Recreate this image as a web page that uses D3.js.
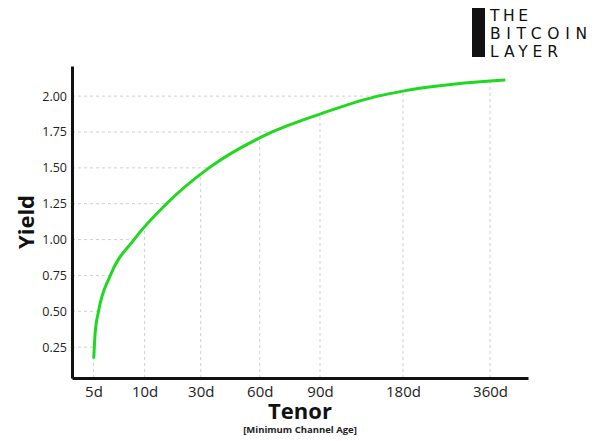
<!DOCTYPE html>
<html>
<head>
<meta charset="utf-8">
<script src="https://cdn.jsdelivr.net/npm/d3@7"></script>
<style>
  body { margin: 0; background: #fff; }
  svg { display: block; font-family: "Open Sans", sans-serif; }
</style>
</head>
<body>
<div id="chart"></div>
<script>
var width = 600,
    height = 441;

// tenor labels and where they sit on the (unevenly spaced) tenor scale
var tenorLabels = ["5d", "10d", "30d", "60d", "90d", "180d", "360d"];
var tenorAt = [0.2, 12.6, 26.2, 40.5, 55.1, 75.2, 96.3];

// yield curve
var curveX = [0.27, 0.6, 1.43, 4.29, 10.03, 17.9, 28.2, 43.5, 55.1, 69.1, 75.2, 96.3, 100];
var curveY = [0.17, 0.346, 0.50, 0.75, 1.00, 1.25, 1.50, 1.75, 1.875, 2.00, 2.035, 2.105, 2.112];

var yTicks = [0.25, 0.50, 0.75, 1.00, 1.25, 1.50, 1.75, 2.00];

var x = d3.scaleLinear().domain([-5, 105.5]).range([72, 528]);
var y = d3.scaleLinear().domain([0.035, 2.21]).range([378, 66]);

var svg = d3.select("#chart").append("svg")
    .attr("width", width)
    .attr("height", height);

var gridG = svg.append("g");

var line = d3.line()
    .x(function(d, i) { return x(curveX[i]); })
    .y(function(d) { return y(d); })
    .curve(d3.curveMonotoneX);

var curve = svg.append("path")
    .datum(curveY)
    .attr("fill", "none")
    .attr("stroke", "#1fd81f")
    .attr("stroke-width", 3)
    .attr("d", line);

// sample the drawn curve so gridlines can stop where they meet it
var node = curve.node(),
    total = node.getTotalLength(),
    pts = [];
for (var s = 0; s <= 400; s++) {
  var p = node.getPointAtLength(total * s / 400);
  pts.push([p.x, p.y]);
}

function curveAtX(px) {
  if (px <= pts[0][0]) return pts[0][1];
  for (var i = 1; i < pts.length; i++) {
    if (pts[i][0] >= px) {
      var a = pts[i - 1], b = pts[i];
      var t = (px - a[0]) / ((b[0] - a[0]) || 1);
      return a[1] + t * (b[1] - a[1]);
    }
  }
  return pts[pts.length - 1][1];
}

function curveAtY(py) {
  for (var i = 1; i < pts.length; i++) {
    if (pts[i][1] <= py) {
      var a = pts[i - 1], b = pts[i];
      var t = (a[1] - py) / ((a[1] - b[1]) || 1);
      return a[0] + t * (b[0] - a[0]);
    }
  }
  return pts[pts.length - 1][0];
}

gridG.selectAll(".hgrid")
  .data(yTicks)
  .enter().append("line")
    .attr("x1", x.range()[0])
    .attr("x2", function(d) { return curveAtY(y(d)); })
    .attr("y1", function(d) { return y(d); })
    .attr("y2", function(d) { return y(d); });

gridG.selectAll(".vgrid")
  .data(tenorAt)
  .enter().append("line")
    .attr("x1", function(d) { return x(d); })
    .attr("x2", function(d) { return x(d); })
    .attr("y1", y.range()[0])
    .attr("y2", function(d) { return curveAtX(x(d)); });

gridG.selectAll("line")
    .attr("stroke", "#cfcfcf")
    .attr("stroke-width", 1)
    .attr("stroke-dasharray", "3,3");

// axes
var yAxis = d3.axisLeft(y)
    .tickValues(yTicks)
    .tickFormat(d3.format(".2f"))
    .tickSize(0)
    .tickPadding(5);

var xAxis = d3.axisBottom(x)
    .tickValues(tenorAt)
    .tickFormat(function(d, i) { return tenorLabels[i]; })
    .tickSize(0)
    .tickPadding(8);

var gy = svg.append("g")
    .attr("transform", "translate(" + x.range()[0] + ",0)")
    .call(yAxis);

var gx = svg.append("g")
    .attr("transform", "translate(0," + y.range()[0] + ")")
    .call(xAxis);

gy.select(".domain").attr("stroke", "#111").attr("stroke-width", 3);
gx.select(".domain").attr("stroke", "#111").attr("stroke-width", 3);

gy.selectAll("text")
    .attr("fill", "#222")
    .style("font-size", "12.5px")
    .style("font-family", "'Open Sans', sans-serif");

gx.selectAll("text")
    .attr("fill", "#222")
    .style("font-size", "15px")
    .style("font-family", "'Open Sans', sans-serif");

// axis titles
svg.append("text")
    .attr("transform", "translate(34,222) rotate(-90)")
    .attr("text-anchor", "middle")
    .attr("fill", "#111")
    .style("font-size", "22px")
    .style("font-weight", 700)
    .text("Yield");

svg.append("text")
    .attr("x", 300)
    .attr("y", 418.5)
    .attr("text-anchor", "middle")
    .attr("fill", "#111")
    .style("font-size", "22px")
    .style("font-weight", 700)
    .text("Tenor");

svg.append("text")
    .attr("x", 300)
    .attr("y", 432.5)
    .attr("text-anchor", "middle")
    .attr("fill", "#222")
    .style("font-size", "9.5px")
    .style("font-weight", 700)
    .text("[Minimum Channel Age]");

// logo
var logo = svg.append("g").attr("transform", "translate(472,8)");
logo.append("rect")
    .attr("width", 13)
    .attr("height", 49)
    .attr("fill", "#111");

var logoLines = ["THE", "BITCOIN", "LAYER"];
var logoWidths = [38, 97, 68];
logo.selectAll(".logo-text")
  .data(logoLines)
  .enter().append("text")
    .attr("x", 18)
    .attr("y", function(d, i) { return 12.7 + i * 18; })
    .attr("textLength", function(d, i) { return logoWidths[i]; })
    .attr("lengthAdjust", "spacing")
    .attr("fill", "#111")
    .style("font-family", "'DejaVu Sans', sans-serif")
    .style("font-size", "15.5px")
    .text(function(d) { return d; });
</script>
</body>
</html>
